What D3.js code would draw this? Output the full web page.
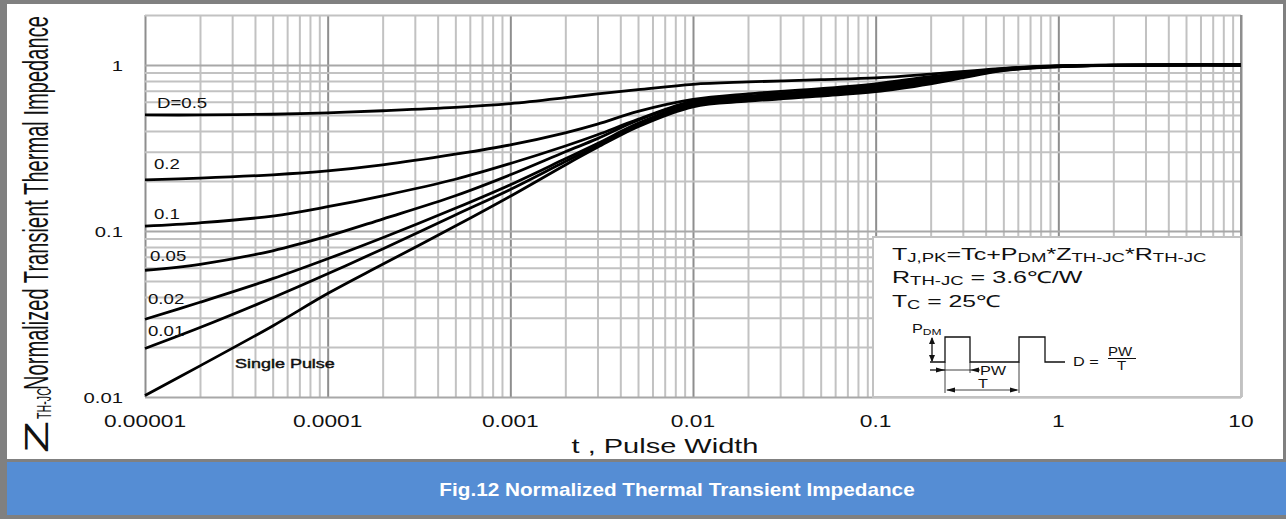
<!DOCTYPE html>
<html>
<head>
<meta charset="utf-8">
<script src="https://cdn.jsdelivr.net/npm/d3@7"></script>
<style>
  body { margin: 0; background: #fff; }
  svg { display: block; font-family: Arial, "Liberation Sans", sans-serif; }
</style>
</head>
<body>
<div id="chart"></div>
<script>
// pulse width (s) and normalized Zth-jc
var pulseWidth = [1e-5, 2e-5, 5e-5, 1e-4, 2e-4, 5e-4, 1e-3, 2e-3, 3e-3, 5e-3, 1e-2, 2e-2, 5e-2, 0.1, 0.2, 0.5, 1, 2, 5, 10];
var zD05   = [0.5, 0.5, 0.505, 0.515, 0.53, 0.555, 0.585, 0.635, 0.67, 0.71, 0.765, 0.79, 0.815, 0.835, 0.88, 0.955, 0.99, 0.998, 1.0, 1.0];
var zD02   = [0.203, 0.208, 0.218, 0.23, 0.25, 0.29, 0.33, 0.39, 0.44, 0.525, 0.62, 0.67, 0.72, 0.77, 0.85, 0.95, 0.985, 0.997, 1.0, 1.0];
var zD01   = [0.107, 0.112, 0.123, 0.14, 0.163, 0.205, 0.255, 0.325, 0.38, 0.47, 0.605, 0.65, 0.7, 0.75, 0.83, 0.945, 0.983, 0.996, 1.0, 1.0];
var zD005  = [0.058, 0.063, 0.076, 0.093, 0.118, 0.163, 0.218, 0.3, 0.36, 0.465, 0.597, 0.64, 0.69, 0.735, 0.815, 0.94, 0.982, 0.996, 1.0, 1.0];
var zD002  = [0.0294, 0.0372, 0.0516, 0.068, 0.091, 0.137, 0.19, 0.272, 0.336, 0.445, 0.585, 0.63, 0.675, 0.72, 0.8, 0.935, 0.98, 0.995, 1.0, 1.0];
var zD001  = [0.0196, 0.0262, 0.0396, 0.0552, 0.078, 0.125, 0.178, 0.262, 0.326, 0.432, 0.575, 0.618, 0.662, 0.705, 0.785, 0.93, 0.978, 0.995, 1.0, 1.0];
var zSingle = [0.0102, 0.0154, 0.0268, 0.042, 0.063, 0.107, 0.162, 0.25, 0.319, 0.425, 0.56, 0.605, 0.65, 0.69, 0.77, 0.925, 0.975, 0.994, 1.0, 1.0];

var curveLabels = ["D=0.5", "0.2", "0.1", "0.05", "0.02", "0.01", "Single Pulse"];
var curveSeries = [zD05, zD02, zD01, zD005, zD002, zD001, zSingle];

var xTickValues = [1e-5, 1e-4, 1e-3, 1e-2, 0.1, 1, 10];
var xTickLabels = ["0.00001", "0.0001", "0.001", "0.01", "0.1", "1", "10"];
var yTickValues = [0.01, 0.1, 1];
var yTickLabels = ["0.01", "0.1", "1"];

var width = 1286;
var height = 519;
var plot = { left: 145, right: 1241, top: 15, bottom: 397 };

var svg = d3.select("#chart")
  .append("svg")
  .attr("width", width)
  .attr("height", height);

var x = d3.scaleLog().domain([1e-5, 10]).range([plot.left, plot.right]);
var y = d3.scaleLog().domain([0.01, 2]).range([plot.bottom, plot.top]);

// the source picture is stretched sideways, so text is widened to match
var widen = function (sel, k) {
  sel.each(function () {
    var len = this.getComputedTextLength();
    d3.select(this)
      .attr("textLength", len * k)
      .attr("lengthAdjust", "spacingAndGlyphs");
  });
};

// outer frame
svg.append("rect")
  .attr("x", 0).attr("y", 0)
  .attr("width", width).attr("height", height)
  .attr("fill", "#808080");
svg.append("rect")
  .attr("x", 7).attr("y", 4)
  .attr("width", width - 10).attr("height", 455)
  .attr("fill", "#fff");

// grid values: 1..9 in every decade
var xMinor = [];
for (var e = -5; e <= 0; e++) {
  for (var k = 1; k <= 9; k++) xMinor.push(k * Math.pow(10, e));
}
xMinor.push(10);
var yMinor = [];
for (var e2 = -2; e2 <= -1; e2++) {
  for (var k2 = 1; k2 <= 9; k2++) yMinor.push(k2 * Math.pow(10, e2));
}
yMinor.push(1, 2);

var isDecade = function (v) {
  var l = Math.log10(v);
  return Math.abs(l - Math.round(l)) < 1e-9;
};

var grid = svg.append("g");

grid.append("g")
  .attr("transform", "translate(0," + plot.bottom + ")")
  .call(d3.axisBottom(x).tickValues(xMinor).tickSize(-(plot.bottom - plot.top)).tickFormat(""))
  .call(function (g) {
    g.select(".domain").remove();
    g.selectAll(".tick line")
      .attr("stroke", function (d) { return isDecade(d) ? "#8e8e8e" : "#c2c2c2"; })
      .attr("stroke-width", 2);
  });

grid.append("g")
  .attr("transform", "translate(" + plot.left + ",0)")
  .call(d3.axisLeft(y).tickValues(yMinor).tickSize(-(plot.right - plot.left)).tickFormat(""))
  .call(function (g) {
    g.select(".domain").remove();
    g.selectAll(".tick line")
      .attr("stroke", function (d) { return isDecade(d) ? "#a8a8a8" : "#c2c2c2"; })
      .attr("stroke-width", 2);
  });

// right border of the plot
svg.append("line")
  .attr("x1", plot.right).attr("x2", plot.right)
  .attr("y1", plot.top).attr("y2", plot.bottom)
  .attr("stroke", "#8e8e8e")
  .attr("stroke-width", 2);

// formula box in the lower right
var box = svg.append("g").attr("transform", "translate(873,237)");
box.append("rect")
  .attr("width", plot.right - 873)
  .attr("height", plot.bottom - 237)
  .attr("fill", "#fff")
  .attr("stroke", "#c2c2c2")
  .attr("stroke-width", 2);

var addRich = function (parent, tx, ty, parts, size, sx) {
  var t = parent.append("g")
    .attr("transform", "translate(" + tx + "," + ty + ") scale(" + sx + ",1)")
    .append("text")
    .attr("font-size", size)
    .attr("fill", "#111");
  parts.forEach(function (p) {
    var s = t.append("tspan").text(p[0]);
    if (p[1]) {
      s.attr("font-size", size * 0.74).attr("dy", 2);
    }
    if (p[2]) {
      s.attr("dy", -2);
    }
  });
  return t;
};

addRich(box, 19, 23, [["T"], ["J,PK", 1], ["=Tc+P", 0, 1], ["DM", 1], ["*Z", 0, 1], ["TH-JC", 1], ["*R", 0, 1], ["TH-JC", 1]], 16.5, 1.52);
addRich(box, 19, 46, [["R"], ["TH-JC", 1], [" = 3.6\u2103/W", 0, 1]], 16.5, 1.52);
addRich(box, 19, 70, [["T"], ["C", 1], [" = 25\u2103", 0, 1]], 16.5, 1.5);
addRich(box, 39, 96, [["P"], ["DM", 1]], 12.5, 1.3);

// pulse train sketch
var pulse = box.append("g")
  .attr("fill", "none")
  .attr("stroke", "#111")
  .attr("stroke-width", 1.3);
pulse.append("path")
  .attr("d", "M57,125H72V100H97V125H146V100H172V125H192");
var arrowHead = function (px, py, dir) {
  var pts;
  if (dir === "up") pts = [[px, py], [px - 3, py + 7], [px + 3, py + 7]];
  if (dir === "down") pts = [[px, py], [px - 3, py - 7], [px + 3, py - 7]];
  if (dir === "right") pts = [[px, py], [px - 9, py - 2.5], [px - 9, py + 2.5]];
  if (dir === "left") pts = [[px, py], [px + 9, py - 2.5], [px + 9, py + 2.5]];
  box.append("path")
    .attr("d", d3.line()(pts) + "Z")
    .attr("fill", "#111");
};
pulse.append("line").attr("x1", 59).attr("x2", 59).attr("y1", 101).attr("y2", 124);
arrowHead(59, 100, "up");
arrowHead(59, 125, "down");
pulse.append("line").attr("x1", 57).attr("x2", 72).attr("y1", 133).attr("y2", 133);
arrowHead(72, 133, "right");
pulse.append("line").attr("x1", 72).attr("x2", 107).attr("y1", 133).attr("y2", 133).attr("stroke-width", 0.8);
arrowHead(97, 133, "left");
pulse.append("line").attr("x1", 72).attr("x2", 72).attr("y1", 125).attr("y2", 156).attr("stroke-width", 0.8);
pulse.append("line").attr("x1", 97).attr("x2", 97).attr("y1", 125).attr("y2", 136).attr("stroke-width", 0.8);
pulse.append("line").attr("x1", 146).attr("x2", 146).attr("y1", 125).attr("y2", 156).attr("stroke-width", 0.8);
pulse.append("line").attr("x1", 74).attr("x2", 144).attr("y1", 153).attr("y2", 153).attr("stroke-width", 0.8);
arrowHead(73, 153, "left");
arrowHead(146, 153, "right");
box.append("text").attr("x", 107).attr("y", 137.5).attr("font-size", 12.5).attr("fill", "#111").text("PW").call(widen, 1.3);
box.append("text").attr("x", 105).attr("y", 150.5).attr("font-size", 12.5).attr("fill", "#111").text("T").call(widen, 1.3);
box.append("text").attr("x", 200).attr("y", 129).attr("font-size", 13).attr("fill", "#111").text("D =").call(widen, 1.25);
box.append("text").attr("x", 235).attr("y", 119).attr("font-size", 12).attr("fill", "#111").text("PW").call(widen, 1.25);
box.append("line").attr("x1", 235).attr("x2", 263).attr("y1", 121.5).attr("y2", 121.5).attr("stroke", "#111").attr("stroke-width", 1);
box.append("text").attr("x", 244).attr("y", 133).attr("font-size", 12).attr("fill", "#111").text("T").call(widen, 1.25);

// curves
var line = d3.line()
  .x(function (d) { return x(d[0]); })
  .y(function (d) { return y(d[1]); })
  .curve(d3.curveCatmullRom.alpha(0.5));

svg.append("g")
  .selectAll("path")
  .data(curveSeries)
  .enter()
  .append("path")
  .attr("d", function (s) {
    return line(pulseWidth.map(function (t, i) { return [t, s[i]]; }));
  })
  .attr("fill", "none")
  .attr("stroke", "#000")
  .attr("stroke-width", 2.8);

// curve labels, placed just above each curve's left end
var labelPos = [
  { dx: 12, dy: -7 },
  { dx: 9, dy: -11 },
  { dx: 9, dy: -7 },
  { dx: 5, dy: -9 },
  { dx: 3, dy: -15 },
  { dx: 3, dy: -12 },
  { dx: 90, dy: -28 }
];
svg.append("g")
  .selectAll("text")
  .data(curveLabels)
  .enter()
  .append("text")
  .attr("x", function (d, i) { return x(pulseWidth[0]) + labelPos[i].dx; })
  .attr("y", function (d, i) { return y(curveSeries[i][0]) + labelPos[i].dy; })
  .attr("font-size", function (d, i) { return i === 6 ? 13.5 : 14; })
  .attr("fill", "#111")
  .attr("stroke", function (d, i) { return i === 6 ? "#111" : "none"; })
  .attr("stroke-width", 0.45)
  .text(function (d) { return d; })
  .call(widen, 1.33);

// tick labels
svg.append("g")
  .selectAll("text")
  .data(xTickValues)
  .enter()
  .append("text")
  .attr("x", function (d) { return x(d); })
  .attr("y", 427)
  .attr("text-anchor", "middle")
  .attr("font-size", 16)
  .attr("fill", "#111")
  .text(function (d, i) { return xTickLabels[i]; })
  .call(widen, 1.42);

svg.append("g")
  .selectAll("text")
  .data(yTickValues)
  .enter()
  .append("text")
  .attr("x", 123)
  .attr("y", function (d) { return y(d) + 6; })
  .attr("text-anchor", "end")
  .attr("font-size", 15)
  .attr("fill", "#111")
  .text(function (d, i) { return yTickLabels[i]; })
  .call(widen, 1.35);

// axis titles
svg.append("text")
  .attr("x", 665)
  .attr("y", 453)
  .attr("text-anchor", "middle")
  .attr("font-size", 20)
  .attr("fill", "#111")
  .text("t , Pulse Width")
  .call(widen, 1.45);

// rotated y title, squeezed along its length with a scale transform
var squeezed = function (px, py, str, size, len) {
  var g = svg.append("g");
  var t = g.append("text")
    .attr("font-size", size)
    .attr("fill", "#111")
    .text(str);
  var natural = t.node().getComputedTextLength();
  g.attr("transform", "translate(" + px + "," + py + ") rotate(-90) scale(" + (len / natural) + ",1)");
};
squeezed(48, 453, "Z", 34, 32);
squeezed(51, 419, "TH-JC", 21, 31);
squeezed(48, 390, "Normalized Transient Thermal Impedance", 35, 374);

// caption banner
svg.append("rect")
  .attr("x", 7).attr("y", 462)
  .attr("width", width - 7).attr("height", 53)
  .attr("fill", "#558dd4");
svg.append("text")
  .attr("x", 677)
  .attr("y", 496)
  .attr("text-anchor", "middle")
  .attr("font-size", 19)
  .attr("font-weight", "bold")
  .attr("fill", "#fff")
  .text("Fig.12 Normalized Thermal Transient Impedance")
  .call(widen, 1.09);
</script>
</body>
</html>
